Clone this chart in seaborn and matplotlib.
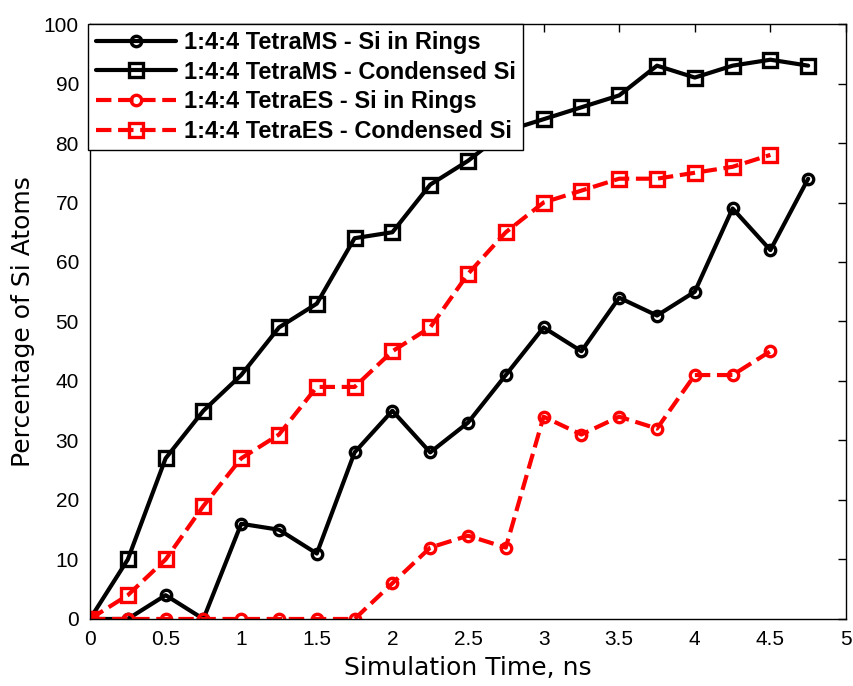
import numpy as np
import pandas as pd
import matplotlib
matplotlib.use("Agg")
import matplotlib.pyplot as plt
import seaborn as sns

# data
time_ms = [0, 0.25, 0.5, 0.75, 1, 1.25, 1.5, 1.75, 2, 2.25, 2.5, 2.75, 3, 3.25, 3.5, 3.75, 4, 4.25, 4.5, 4.75]
ms_rings = [0, 0, 4, 0, 16, 15, 11, 28, 35, 28, 33, 41, 49, 45, 54, 51, 55, 69, 62, 74]
ms_condensed = [0, 10, 27, 35, 41, 49, 53, 64, 65, 73, 77, 82, 84, 86, 88, 93, 91, 93, 94, 93]

time_es = [0, 0.25, 0.5, 0.75, 1, 1.25, 1.5, 1.75, 2, 2.25, 2.5, 2.75, 3, 3.25, 3.5, 3.75, 4, 4.25, 4.5]
es_rings = [0, 0, 0, 0, 0, 0, 0, 0, 6, 12, 14, 12, 34, 31, 34, 32, 41, 41, 45]
es_condensed = [0, 4, 10, 19, 27, 31, 39, 39, 45, 49, 58, 65, 70, 72, 74, 74, 75, 76, 78]

labels = ["1:4:4 TetraMS - Si in Rings", "1:4:4 TetraMS - Condensed Si",
          "1:4:4 TetraES - Si in Rings", "1:4:4 TetraES - Condensed Si"]

sns.set_style("white", {"text.color": "black", "axes.labelcolor": "black"})
plt.rcParams['font.family'] = ['Liberation Sans', 'DejaVu Sans']

fig = plt.figure(figsize=(8.54, 6.86), dpi=100)
ax = fig.add_axes([0.1054, 0.0977, 0.8852, 0.8673])

series = [
    (time_ms, ms_rings, labels[0], "black", "-", "o", 7.5),
    (time_ms, ms_condensed, labels[1], "black", "-", "s", 10),
    (time_es, es_rings, labels[2], "red", "--", "o", 7.5),
    (time_es, es_condensed, labels[3], "red", "--", "s", 10),
]
for x, y, lab, col, ls, mk, ms in series:
    df = pd.DataFrame({"t": x, "pct": y})
    sns.lineplot(data=df, x="t", y="pct", ax=ax, color=col, linestyle=ls,
                 linewidth=3, marker=mk, markersize=ms, markerfacecolor="none",
                 markeredgecolor=col, markeredgewidth=2.4, label=lab)

ax.set_xlim(0, 5)
ax.set_ylim(0, 100)
ax.set_xticks(np.arange(0, 5.01, 0.5))
ax.set_xticklabels(["0", "0.5", "1", "1.5", "2", "2.5", "3", "3.5", "4", "4.5", "5"])
ax.set_yticks(np.arange(0, 101, 10))
ax.tick_params(direction="in", length=6, width=1, top=True, right=True,
               labelsize=15, colors="black")
ax.tick_params(axis="x", pad=8)
ax.tick_params(axis="y", pad=8)
for sp in ax.spines.values():
    sp.set_color("black")
    sp.set_linewidth(1)

ax.set_xlabel("Simulation Time, ns", fontsize=18, family="DejaVu Sans", labelpad=5, color="black")
ax.set_ylabel("Percentage of Si Atoms", fontsize=18, family="DejaVu Sans", labelpad=6, color="black")

leg = ax.legend(loc="upper left", bbox_to_anchor=(-0.002, 1.0), borderaxespad=0,
                fancybox=False, framealpha=1, edgecolor="black",
                prop={"size": 17, "weight": "bold"},
                handlelength=3.4, borderpad=0.3, labelspacing=0.28, handletextpad=0.35)
leg.get_frame().set_linewidth(1)
for t in leg.get_texts():
    t.set_color("black")

fig.savefig("out.png", dpi=100)
